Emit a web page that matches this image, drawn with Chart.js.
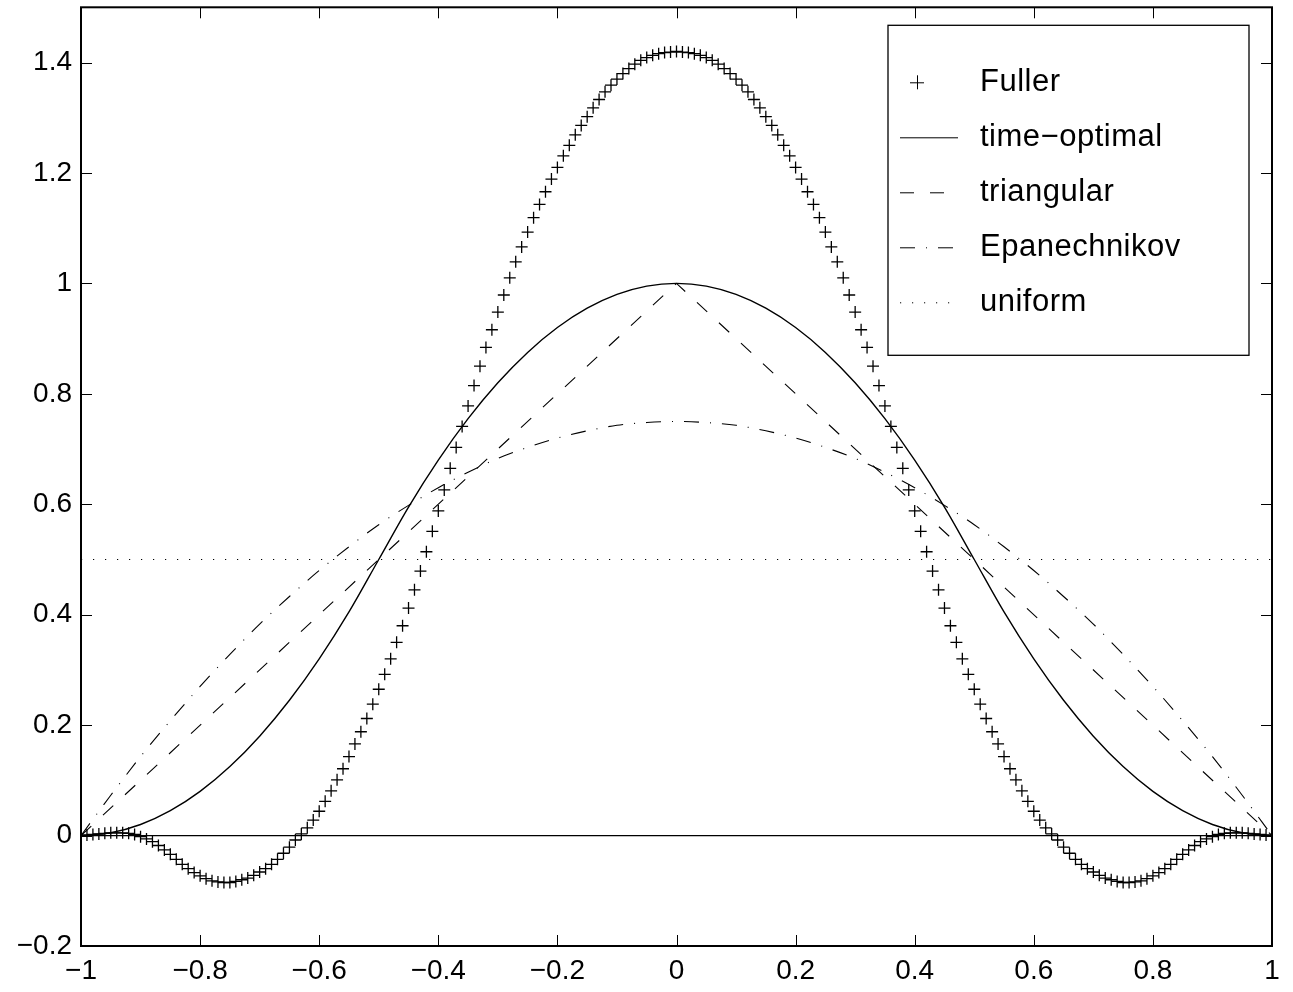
<!DOCTYPE html>
<html>
<head>
<meta charset="utf-8">
<script src="https://cdn.jsdelivr.net/npm/chart.js@4"></script>
<style>
  html, body { margin: 0; padding: 0; background: #fff; }
  #wrap { width: 1293px; height: 992px; }
</style>
</head>
<body>
<div id="wrap"><canvas id="kernelChart" width="1293" height="992"></canvas></div>
<script>
// x grid of the Fuller markers (step 0.01)
const fullerX = [
  -1.00, -0.99, -0.98, -0.97, -0.96, -0.95, -0.94, -0.93, -0.92, -0.91,
  -0.90, -0.89, -0.88, -0.87, -0.86, -0.85, -0.84, -0.83, -0.82, -0.81,
  -0.80, -0.79, -0.78, -0.77, -0.76, -0.75, -0.74, -0.73, -0.72, -0.71,
  -0.70, -0.69, -0.68, -0.67, -0.66, -0.65, -0.64, -0.63, -0.62, -0.61,
  -0.60, -0.59, -0.58, -0.57, -0.56, -0.55, -0.54, -0.53, -0.52, -0.51,
  -0.50, -0.49, -0.48, -0.47, -0.46, -0.45, -0.44, -0.43, -0.42, -0.41,
  -0.40, -0.39, -0.38, -0.37, -0.36, -0.35, -0.34, -0.33, -0.32, -0.31,
  -0.30, -0.29, -0.28, -0.27, -0.26, -0.25, -0.24, -0.23, -0.22, -0.21,
  -0.20, -0.19, -0.18, -0.17, -0.16, -0.15, -0.14, -0.13, -0.12, -0.11,
  -0.10, -0.09, -0.08, -0.07, -0.06, -0.05, -0.04, -0.03, -0.02, -0.01,
  0.00,
  0.01, 0.02, 0.03, 0.04, 0.05, 0.06, 0.07, 0.08, 0.09, 0.10,
  0.11, 0.12, 0.13, 0.14, 0.15, 0.16, 0.17, 0.18, 0.19, 0.20,
  0.21, 0.22, 0.23, 0.24, 0.25, 0.26, 0.27, 0.28, 0.29, 0.30,
  0.31, 0.32, 0.33, 0.34, 0.35, 0.36, 0.37, 0.38, 0.39, 0.40,
  0.41, 0.42, 0.43, 0.44, 0.45, 0.46, 0.47, 0.48, 0.49, 0.50,
  0.51, 0.52, 0.53, 0.54, 0.55, 0.56, 0.57, 0.58, 0.59, 0.60,
  0.61, 0.62, 0.63, 0.64, 0.65, 0.66, 0.67, 0.68, 0.69, 0.70,
  0.71, 0.72, 0.73, 0.74, 0.75, 0.76, 0.77, 0.78, 0.79, 0.80,
  0.81, 0.82, 0.83, 0.84, 0.85, 0.86, 0.87, 0.88, 0.89, 0.90,
  0.91, 0.92, 0.93, 0.94, 0.95, 0.96, 0.97, 0.98, 0.99, 1.00
];
const fullerY = [
  0.000, 0.001, 0.002, 0.003, 0.004, 0.005, 0.005, 0.005, 0.004, 0.002,
  -0.002, -0.006, -0.011, -0.018, -0.026, -0.034, -0.043, -0.052, -0.060, -0.067,
  -0.073, -0.078, -0.082, -0.084, -0.085, -0.085, -0.083, -0.080, -0.077, -0.072,
  -0.066, -0.060, -0.052, -0.043, -0.032, -0.021, -0.008, 0.003, 0.014, 0.028,
  0.044, 0.062, 0.081, 0.101, 0.121, 0.143, 0.166, 0.188, 0.212, 0.238,
  0.265, 0.292, 0.320, 0.350, 0.380, 0.412, 0.445, 0.479, 0.514, 0.551,
  0.588, 0.626, 0.665, 0.703, 0.741, 0.778, 0.815, 0.850, 0.884, 0.916,
  0.948, 0.979, 1.010, 1.039, 1.066, 1.093, 1.119, 1.143, 1.166, 1.189,
  1.210, 1.231, 1.250, 1.269, 1.286, 1.302, 1.318, 1.333, 1.347, 1.359,
  1.370, 1.380, 1.389, 1.397, 1.404, 1.409, 1.413, 1.416, 1.418, 1.419,
  1.420,
  1.419, 1.418, 1.416, 1.413, 1.409, 1.404, 1.397, 1.389, 1.380, 1.370,
  1.359, 1.347, 1.333, 1.318, 1.302, 1.286, 1.269, 1.250, 1.231, 1.210,
  1.189, 1.166, 1.143, 1.119, 1.093, 1.066, 1.039, 1.010, 0.979, 0.948,
  0.916, 0.884, 0.850, 0.815, 0.778, 0.741, 0.703, 0.665, 0.626, 0.588,
  0.551, 0.514, 0.479, 0.445, 0.412, 0.380, 0.350, 0.320, 0.292, 0.265,
  0.238, 0.212, 0.188, 0.166, 0.143, 0.121, 0.101, 0.081, 0.062, 0.044,
  0.028, 0.014, 0.003, -0.008, -0.021, -0.032, -0.043, -0.052, -0.060, -0.066,
  -0.072, -0.077, -0.080, -0.083, -0.085, -0.085, -0.084, -0.082, -0.078, -0.073,
  -0.067, -0.060, -0.052, -0.043, -0.034, -0.026, -0.018, -0.011, -0.006, -0.002,
  0.002, 0.004, 0.005, 0.005, 0.005, 0.004, 0.003, 0.002, 0.001, 0.000
];

// smooth kernels, sampled every 0.05
const curveX = [
  -1.00, -0.95, -0.90, -0.85, -0.80, -0.75, -0.70, -0.65, -0.60, -0.55,
  -0.50, -0.45, -0.40, -0.35, -0.30, -0.25, -0.20, -0.15, -0.10, -0.05,
  0.00,
  0.05, 0.10, 0.15, 0.20, 0.25, 0.30, 0.35, 0.40, 0.45, 0.50,
  0.55, 0.60, 0.65, 0.70, 0.75, 0.80, 0.85, 0.90, 0.95, 1.00
];
const timeOptimalY = [
  0, 0.005, 0.02, 0.045, 0.08, 0.125, 0.18, 0.245, 0.32, 0.405,
  0.5, 0.595, 0.68, 0.755, 0.82, 0.875, 0.92, 0.955, 0.98, 0.995,
  1,
  0.995, 0.98, 0.955, 0.92, 0.875, 0.82, 0.755, 0.68, 0.595, 0.5,
  0.405, 0.32, 0.245, 0.18, 0.125, 0.08, 0.045, 0.02, 0.005, 0
];
const epanechnikovY = [
  0, 0.073, 0.143, 0.208, 0.27, 0.328, 0.383, 0.433, 0.48, 0.523,
  0.563, 0.598, 0.63, 0.658, 0.683, 0.703, 0.72, 0.733, 0.743, 0.748,
  0.75,
  0.748, 0.743, 0.733, 0.72, 0.703, 0.683, 0.658, 0.63, 0.598, 0.563,
  0.523, 0.48, 0.433, 0.383, 0.328, 0.27, 0.208, 0.143, 0.073, 0
];
const triangularX = [-1, 0, 1];
const triangularY = [0, 1, 0];
const uniformX = [-1, 1];
const uniformY = [0.5, 0.5];
const zeroX = [-1, 1];
const zeroY = [0, 0];

const legendLabels = ['Fuller', 'time\u2212optimal', 'triangular', 'Epanechnikov', 'uniform'];

const FONT = 'Liberation Sans, Arial, Helvetica, sans-serif';
const TICK = 11;

const pts = (xs, ys) => xs.map((x, i) => ({ x, y: ys[i] }));
const fmt = v => {
  const r = Math.round(v * 10) / 10;
  const s = String(Math.abs(r));
  return r < 0 ? '\u2212' + s : s;
};
const onGrid = s => {
  s.ticks = s.ticks.filter(t => Math.abs(t.value * 5 - Math.round(t.value * 5)) < 1e-6);
};
const noPad = s => {
  s.paddingTop = 0; s.paddingBottom = 0; s.paddingLeft = 0; s.paddingRight = 0;
};

// box and inward tick marks on all four sides
const framePlugin = {
  id: 'frame',
  afterDraw(chart) {
    const { ctx, chartArea: a, scales } = chart;
    ctx.save();
    ctx.strokeStyle = '#000';
    ctx.lineWidth = 1;
    ctx.beginPath();
    scales.x.ticks.forEach(t => {
      const px = Math.round(scales.x.getPixelForValue(t.value)) + 0.5;
      ctx.moveTo(px, a.bottom); ctx.lineTo(px, a.bottom - TICK);
      ctx.moveTo(px, a.top); ctx.lineTo(px, a.top + TICK);
    });
    scales.y.ticks.forEach(t => {
      const py = Math.round(scales.y.getPixelForValue(t.value)) + 0.5;
      ctx.moveTo(a.left, py); ctx.lineTo(a.left + TICK, py);
      ctx.moveTo(a.right, py); ctx.lineTo(a.right - TICK, py);
    });
    ctx.stroke();
    ctx.lineWidth = 2;
    ctx.strokeRect(a.left, a.top, a.right - a.left, a.bottom - a.top);
    ctx.restore();
  }
};

// MATLAB style legend box in the upper right corner
const legendPlugin = {
  id: 'boxLegend',
  afterDraw(chart) {
    const { ctx, chartArea: a } = chart;
    const bx = a.right - 384, by = a.top + 18, bw = 361, bh = 330;
    ctx.save();
    ctx.fillStyle = '#fff';
    ctx.fillRect(bx, by, bw, bh);
    ctx.strokeStyle = '#000';
    ctx.lineWidth = 1.3;
    ctx.strokeRect(bx, by, bw, bh);
    ctx.font = '31px ' + FONT;
    ctx.letterSpacing = '0.5px';
    ctx.textBaseline = 'middle';
    ctx.fillStyle = '#000';
    chart.data.datasets.slice(0, legendLabels.length).forEach((ds, i) => {
      const y = by + 57 + i * 55;
      ctx.lineWidth = 1;
      ctx.beginPath();
      if (ds.showLine === false) {
        const cx = bx + 29, r = 7;
        ctx.setLineDash([]);
        ctx.moveTo(cx - r, y + 0.5); ctx.lineTo(cx + r, y + 0.5);
        ctx.moveTo(cx + 0.5, y - r); ctx.lineTo(cx + 0.5, y + r);
      } else {
        ctx.setLineDash(ds.borderDash || []);
        ctx.moveTo(bx + 12, y + 0.5); ctx.lineTo(bx + 70, y + 0.5);
      }
      ctx.stroke();
      ctx.fillText(legendLabels[i], bx + 92, y);
    });
    ctx.restore();
  }
};

new Chart(document.getElementById('kernelChart').getContext('2d'), {
  type: 'line',
  data: {
    datasets: [
      {
        label: legendLabels[0],
        data: pts(fullerX, fullerY),
        showLine: false,
        pointStyle: 'cross',
        pointRadius: 6,
        pointBorderWidth: 1.3,
        pointBorderColor: '#000',
        borderColor: '#000',
      },
      {
        label: legendLabels[1],
        data: pts(curveX, timeOptimalY),
        borderColor: '#000',
        borderWidth: 1.4,
        pointRadius: 0,
        cubicInterpolationMode: 'monotone',
      },
      {
        label: legendLabels[2],
        data: pts(triangularX, triangularY),
        borderColor: '#000',
        borderWidth: 1.1,
        borderDash: [14, 16],
        pointRadius: 0,
      },
      {
        label: legendLabels[3],
        data: pts(curveX, epanechnikovY),
        borderColor: '#000',
        borderWidth: 1.1,
        borderDash: [15, 11, 1, 11],
        pointRadius: 0,
        cubicInterpolationMode: 'monotone',
      },
      {
        label: legendLabels[4],
        data: pts(uniformX, uniformY),
        borderColor: '#000',
        borderWidth: 1.1,
        borderDash: [1.2, 10.8],
        pointRadius: 0,
      },
      {
        label: 'zero',
        data: pts(zeroX, zeroY),
        borderColor: '#000',
        borderWidth: 1.3,
        pointRadius: 0,
      },
    ],
  },
  options: {
    responsive: false,
    animation: false,
    devicePixelRatio: 1,
    layout: { padding: { top: 7, right: 21, left: 0, bottom: 0 } },
    plugins: {
      legend: { display: false },
      tooltip: { enabled: false },
    },
    scales: {
      x: {
        type: 'linear',
        min: -1,
        max: 1,
        afterBuildTicks: onGrid,
        afterFit: s => { s.height = 46; noPad(s); },
        grid: { display: false, drawTicks: false },
        border: { display: false },
        ticks: {
          stepSize: 0.2,
          color: '#000',
          padding: 8,
          maxRotation: 0,
          autoSkip: false,
          font: { family: FONT, size: 28 },
          callback: v => fmt(v),
        },
      },
      y: {
        type: 'linear',
        min: -0.2,
        max: 1.5,
        afterBuildTicks: onGrid,
        afterFit: s => { s.width = 81; noPad(s); },
        grid: { display: false, drawTicks: false },
        border: { display: false },
        ticks: {
          stepSize: 0.2,
          color: '#000',
          padding: 9,
          autoSkip: false,
          font: { family: FONT, size: 28 },
          callback: v => fmt(v),
        },
      },
    },
  },
  plugins: [framePlugin, legendPlugin],
});
</script>
</body>
</html>
